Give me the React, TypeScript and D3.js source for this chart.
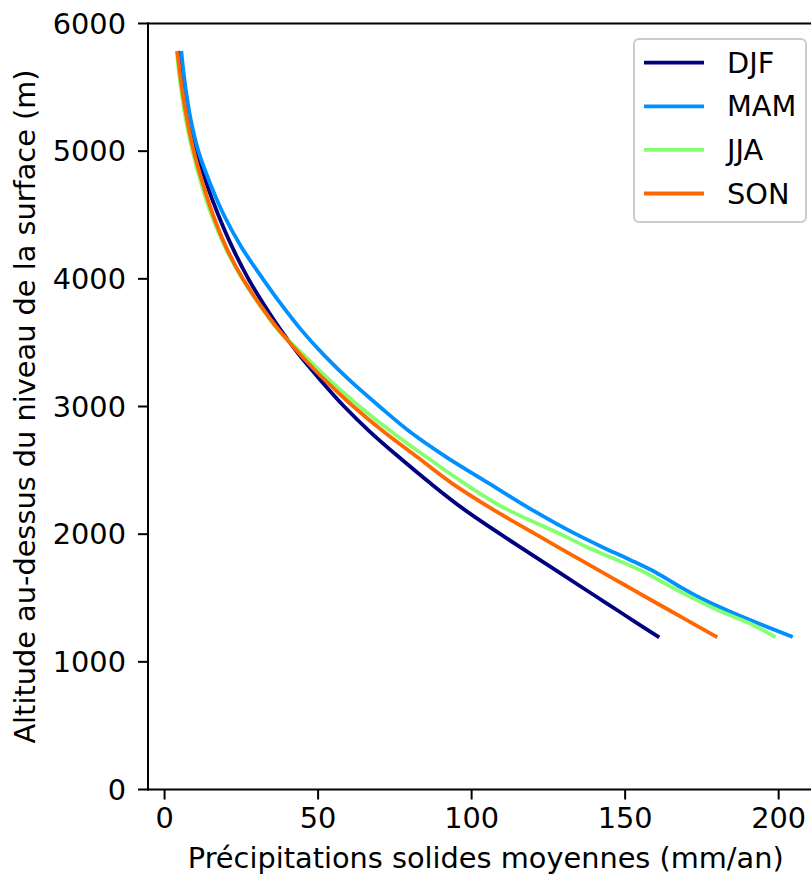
import React from "react";
import * as d3 from "d3";

const altitudes = [1200, 1300, 1400, 1500, 1600, 1700, 1800, 1900, 2000, 2200, 2400, 2600, 2800, 3000, 3200, 3400, 3600, 3800, 4000, 4250, 4500, 4750, 5000, 5250, 5500, 5770];

const djf = [160.6, 154.1, 147.7, 141.3, 134.9, 128.5, 122.1, 115.7, 109.4, 97.2, 86.5, 76.5, 67.0, 58.5, 51.0, 44.0, 37.8, 32.3, 27.3, 22.0, 17.5, 13.6, 10.4, 7.9, 6.0, 4.5];
const mam = [204.0, 193.5, 183.5, 174.5, 167.0, 160.0, 151.5, 142.5, 134.0, 119.0, 105.5, 92.0, 80.0, 70.0, 60.5, 52.0, 44.5, 38.0, 32.0, 25.0, 19.3, 14.8, 11.0, 8.5, 6.8, 5.5];
const jja = [198.5, 190.7, 180.6, 172.0, 164.0, 156.5, 147.2, 137.5, 129.0, 111.0, 97.5, 85.5, 74.0, 63.5, 54.0, 45.5, 37.0, 30.8, 25.3, 19.7, 15.3, 11.9, 9.1, 6.9, 5.3, 4.0];
const son = [179.5, 172.1, 164.7, 157.3, 150.0, 142.6, 135.3, 128.0, 120.8, 106.5, 93.5, 82.5, 71.5, 61.5, 52.5, 44.5, 37.2, 31.0, 25.5, 20.0, 15.8, 12.4, 9.5, 7.3, 5.6, 4.2];

const seriesNames = ["DJF", "MAM", "JJA", "SON"];
const seriesValues = [djf, mam, jja, son];
const seriesColors = ["#000080", "#0090ff", "#84ff70", "#ff6800"];

const xTicks = [0, 50, 100, 150, 200];
const yTicks = [0, 1000, 2000, 3000, 4000, 5000, 6000];

const xLabel = "Précipitations solides moyennes (mm/an)";
const yLabel = "Altitude au-dessus du niveau de la surface (m)";

const W = 811;
const H = 877;
const FONT = "'DejaVu Sans', sans-serif";
const FS = 28.8;

export default function App() {
  const x = d3.scaleLinear().domain([-5.4, 214.6]).range([148, 823.5]);
  const y = d3.scaleLinear().domain([0, 6000]).range([789.5, 23.5]);
  const left = x(-5.4);
  const right = x(214.6);
  const top = y(6000);
  const bottom = y(0);

  const line = d3
    .line<[number, number]>()
    .x((d) => x(d[0]))
    .y((d) => y(d[1]))
    .curve(d3.curveMonotoneY);

  const legX = 634;
  const legY = 39;
  const legW = 172;
  const legH = 183;
  const rowY = (i: number) => 62.7 + i * 43.6;

  return (
    <svg
      width={W}
      height={H}
      style={{ position: "absolute", left: 0, top: 0, background: "#fff" }}
      fontFamily={FONT}
    >
      <rect x={0} y={0} width={W} height={H} fill="#fff" />
      {seriesValues.map((vals, i) => (
        <path
          key={seriesNames[i]}
          d={line(vals.map((v, j) => [v, altitudes[j]] as [number, number])) || ""}
          fill="none"
          stroke={seriesColors[i]}
          strokeWidth={3.8}
          strokeLinecap="square"
        />
      ))}
      {/* spines */}
      <line x1={left} x2={left} y1={top} y2={bottom} stroke="#000" strokeWidth={2} strokeLinecap="square" />
      <line x1={left} x2={right} y1={bottom} y2={bottom} stroke="#000" strokeWidth={2} strokeLinecap="square" />
      <line x1={left} x2={right} y1={top} y2={top} stroke="#000" strokeWidth={2} strokeLinecap="square" />
      <line x1={right} x2={right} y1={top} y2={bottom} stroke="#000" strokeWidth={2} />
      {/* y ticks */}
      {yTicks.map((t) => (
        <g key={"y" + t}>
          <line x1={left - 10} x2={left} y1={y(t)} y2={y(t)} stroke="#000" strokeWidth={2} />
          <text x={left - 22} y={y(t)} textAnchor="end" dominantBaseline="central" fontSize={FS} fill="#000">
            {t}
          </text>
        </g>
      ))}
      {/* x ticks */}
      {xTicks.map((t) => (
        <g key={"x" + t}>
          <line x1={x(t)} x2={x(t)} y1={bottom} y2={bottom + 10} stroke="#000" strokeWidth={2} />
          <text x={x(t)} y={828} textAnchor="middle" fontSize={FS} fill="#000">
            {t}
          </text>
        </g>
      ))}
      <text x={(left + right) / 2} y={868} textAnchor="middle" fontSize={FS} fill="#000">
        {xLabel}
      </text>
      <text
        transform={`translate(25, ${(top + bottom) / 2}) rotate(-90)`}
        textAnchor="middle"
        dominantBaseline="central"
        fontSize={FS}
        fill="#000"
      >
        {yLabel}
      </text>
      {/* legend */}
      <rect x={legX} y={legY} width={legW} height={legH} rx={5} ry={5} fill="#fff" fillOpacity={0.8} stroke="#cccccc" strokeWidth={2} />
      {seriesNames.map((n, i) => (
        <g key={"leg" + n}>
          <line x1={644} x2={704} y1={rowY(i)} y2={rowY(i)} stroke={seriesColors[i]} strokeWidth={3.8} />
          <text x={727} y={rowY(i)} dominantBaseline="central" fontSize={FS} fill="#000">
            {n}
          </text>
        </g>
      ))}
    </svg>
  );
}
